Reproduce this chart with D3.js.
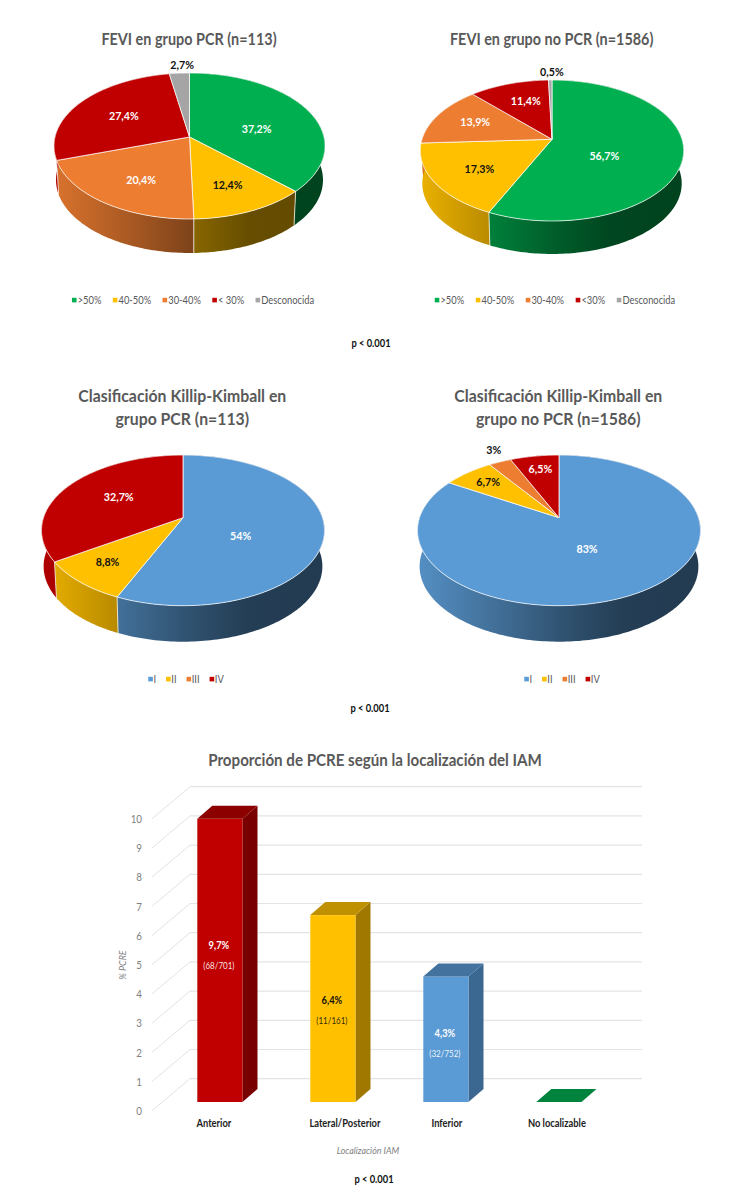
<!DOCTYPE html>
<html><head><meta charset="utf-8">
<script src="https://cdn.jsdelivr.net/npm/d3@7/dist/d3.min.js"></script>
<style>html,body{margin:0;padding:0;background:#fff}svg{display:block}text{font-family:Lato,"Noto Sans",sans-serif}</style>
</head><body><div id="c"></div>
<script>
// ---- data ----
const feviCategoriesPCR = [">50%", "40-50%", "30-40%", "< 30%", "Desconocida"];
const feviValuesPCR = [37.2, 12.4, 20.4, 27.4, 2.7];
const feviCategoriesNoPCR = [">50%", "40-50%", "30-40%", "<30%", "Desconocida"];
const feviValuesNoPCR = [56.7, 17.3, 13.9, 11.4, 0.5];
const killipCategories = ["I", "II", "III", "IV"];
const killipValuesPCR = [54, 8.8, 0, 32.7];
const killipValuesNoPCR = [83, 6.7, 3, 6.5];
const locCategories = ["Anterior", "Lateral/Posterior", "Inferior", "No localizable"];
const locValues = [9.7, 6.4, 4.3, 0];
const locCounts = ["(68/701)", "(11/161)", "(32/752)", ""];
const yTicks = [0,1,2,3,4,5,6,7,8,9,10];

// ---- styles ----
const feviColors = ["#00b050", "#ffc000", "#ed7d31", "#c00000", "#a5a5a5"];
const killipColors = ["#5b9bd5", "#ffc000", "#ed7d31", "#c00000"];
const feviLabelInk = ["#fff", "#111", "#fff", "#fff", "#111"];
const killipLabelInk = ["#fff", "#111", "#111", "#fff"];
const barFront = ["#c00000", "#ffc000", "#5b9bd5", "#00843d"];
const barSide = ["#780000", "#a07800", "#3b6890", "#00843d"];
const barTop = ["#8c0000", "#bf9000", "#44729f", "#00843d"];
const labelFont = 12, legendFont = 10.5, condense = 0.89;

const width = 750, height = 1200;
const svg = d3.select("#c").append("svg").attr("width", width).attr("height", height);
const defs = svg.append("defs");
let gradCount = 0;

function shadeGradient(color, x0, x1) {
  const id = "wall" + (gradCount++);
  const g = defs.append("linearGradient").attr("id", id)
    .attr("gradientUnits", "userSpaceOnUse").attr("x1", x0).attr("x2", x1).attr("y1", 0).attr("y2", 0);
  const c = d3.rgb(color);
  [[0,.92],[.27,.72],[.5,.54],[.72,.4],[1,.38]].forEach(([o,m]) => {
    g.append("stop").attr("offset", o).attr("stop-color", d3.rgb(c.r*m, c.g*m, c.b*m).formatHex());
  });
  return `url(#${id})`;
}

function pie3d(cfg) {
  const g = svg.append("g");
  const {cx, cy, A, B, k, depth} = cfg;
  const project = (a, f, dy, w) => {
    const u = f * Math.sin(a), v = -f * Math.cos(a), s = 1 / (1 - k * v);
    return [cx + A * u * s * (w || 1), cy + B * v * s + (dy || 0)];
  };
  const arcs = d3.pie().sort(null).value(d => d)(cfg.values);
  const line = d3.line();
  const rim = (a0, a1) => {
    const n = Math.max(2, Math.ceil((a1 - a0) / 0.02));
    return d3.range(n + 1).map(i => a0 + (a1 - a0) * i / n);
  };
  const rx = A * 1.012;
  arcs.forEach((d, i) => {
    if (d.endAngle <= d.startAngle) return;
    const as = rim(d.startAngle, d.endAngle);
    const top = as.map(a => project(a, 1, 0));
    const bottom = as.map(a => project(a, 1, depth, .985)).reverse();
    g.append("path").attr("d", line(top.concat(bottom)) + "Z")
      .attr("fill", shadeGradient(cfg.colors[i], cx - rx, cx + rx));
  });
  arcs.forEach(d => {
    if (d.endAngle <= d.startAngle) return;
    if (-Math.cos(d.startAngle) > 0.1) {
      g.append("path").attr("d", line([project(d.startAngle, 1, 0), project(d.startAngle, 1, depth, .985)]))
        .attr("stroke", "#f4f0e6").attr("stroke-width", 1).attr("stroke-opacity", .8).attr("fill", "none");
    }
  });
  arcs.forEach((d, i) => {
    if (d.endAngle <= d.startAngle) return;
    const pts = [[cx, cy]].concat(rim(d.startAngle, d.endAngle).map(a => project(a, 1, 0)));
    g.append("path").attr("d", line(pts) + "Z").attr("fill", cfg.colors[i])
      .attr("stroke", "#fff").attr("stroke-opacity", .72).attr("stroke-width", 1).attr("stroke-linejoin", "round");
  });
  arcs.forEach((d, i) => {
    if (d.endAngle <= d.startAngle) return;
    const p = project((d.startAngle + d.endAngle) / 2, .6, 0);
    const n = cfg.nudges[i];
    g.append("text").attr("x", p[0] + n[0]).attr("y", p[1] + n[1]).attr("dy", "0.35em")
      .attr("text-anchor", "middle").attr("font-size", labelFont).attr("font-weight", 700)
      .attr("fill", cfg.ink[i]).text(String(d.data).replace(".", ",") + "%");
  });
  cfg.title.forEach((t, i) => {
    g.append("text").attr("x", cfg.titleX).attr("y", cfg.titleY + i * 23.3).attr("dy", "0.35em")
      .attr("text-anchor", "middle").attr("font-size", cfg.titleSize).attr("font-weight", 700)
      .attr("fill", "#595959").text(t);
  });
  const lg = g.append("g");
  let x = 0;
  cfg.categories.forEach((c, i) => {
    const it = lg.append("g");
    it.append("rect").attr("x", 0).attr("y", -2.2).attr("width", 4.6).attr("height", 4.6).attr("fill", cfg.colors[i]);
    const t = it.append("text").attr("x", cfg.swatchGap).attr("dy", "0.35em").attr("font-size", legendFont)
      .attr("fill", "#595959").text(c);
    const w = cfg.swatchGap + t.node().getComputedTextLength() * condense;
    it.attr("transform", `translate(${x},0)`);
    x += w + cfg.itemGap;
  });
  lg.attr("transform", `translate(${cfg.legendX - (x - cfg.itemGap) / 2},${cfg.legendY})`);
}

pie3d({cx:189.5, cy:137, A:134.5, B:71.9, k:.123, depth:34,
  values:feviValuesPCR, colors:feviColors, ink:feviLabelInk, categories:feviCategoriesPCR,
  nudges:[[-5,8],[3,6],[1,5.5],[1,0],[-1,-32]],
  title:["FEVI en grupo PCR (n=113)"], titleX:189, titleY:39, titleSize:16.2,
  legendX:193, legendY:300, swatchGap:5.7, itemGap:11.4});
pie3d({cx:552, cy:139.3, A:130, B:68.7, k:.159, depth:33,
  values:feviValuesNoPCR, colors:feviColors, ink:feviLabelInk, categories:feviCategoriesNoPCR,
  nudges:[[-25.5,8],[-4.5,5],[-7,-3],[1,-3],[1,-30]],
  title:["FEVI en grupo no PCR (n=1586)"], titleX:551.7, titleY:39, titleSize:16.2,
  legendX:555, legendY:300, swatchGap:5.7, itemGap:11.6});
pie3d({cx:183, cy:517.7, A:139.5, B:73.2, k:.168, depth:36,
  values:killipValuesPCR, colors:killipColors, ink:killipLabelInk, categories:killipCategories,
  nudges:[[-26,9],[-17,7.5],[0,0],[6,-1]],
  title:["Clasificación Killip-Kimball en","grupo PCR (n=113)"], titleX:182.3, titleY:395.7, titleSize:17.8,
  legendX:186, legendY:679, swatchGap:5.2, itemGap:10});
pie3d({cx:559, cy:517.7, A:139.5, B:73.2, k:.168, depth:36,
  values:killipValuesNoPCR, colors:killipColors, ink:killipLabelInk, categories:killipCategories,
  nudges:[[-17,-11],[-14,-8],[-28,-33],[-3,-10]],
  title:["Clasificación Killip-Kimball en","grupo no PCR (n=1586)"], titleX:558.3, titleY:395.7, titleSize:17.8,
  legendX:562, legendY:679, swatchGap:5.2, itemGap:10});

// ---- bar chart ----
const xBand = d3.scaleBand().domain(locCategories).range([163.4, 615.4]).paddingInner(.6).paddingOuter(.3);
const y = d3.scaleLinear().domain([0, 10]).range([1102, 810]);
const backDy = -23.3, frontDy = 9, wallLeft = 151.7, wallBack = 190, wallRight = 642;
const sideDx = 15, sideDy = -13;
const bars = svg.append("g");

const grid = bars.append("g");
yTicks.forEach(t => {
  grid.append("line").attr("x1", wallBack).attr("x2", wallRight)
    .attr("y1", y(t) + backDy).attr("y2", y(t) + backDy).attr("stroke", "#e4e4e4").attr("stroke-width", 1.2);
  grid.append("line").attr("x1", wallLeft).attr("x2", wallBack)
    .attr("y1", y(t) + frontDy).attr("y2", y(t) + backDy).attr("stroke", "#e2e2e2").attr("stroke-width", 1);
});
const axis = bars.append("g").attr("transform", `translate(145,${frontDy})`)
  .call(d3.axisLeft(y).tickValues(yTicks).tickSize(0).tickPadding(3).tickFormat(d3.format("d")));
axis.select(".domain").remove();
axis.selectAll("text").attr("font-size", 11).attr("fill", "#7f7f7f").style("font-family", "Lato,sans-serif");

const poly = d3.line();
const labelShift = [-14.6, -8, -5.4, 0];
const catShift = [-6, 12, 1, -2];
locCategories.forEach((c, i) => {
  const x0 = xBand(c), w = xBand.bandwidth(), x1 = x0 + w, yt = y(locValues[i]), yb = y(0);
  if (locValues[i] > 0) {
    bars.append("path").attr("fill", barSide[i]).attr("d",
      poly([[x1,yt],[x1+sideDx,yt+sideDy],[x1+sideDx,yb+sideDy],[x1,yb]]) + "Z");
    bars.append("rect").attr("x", x0).attr("y", yt).attr("width", w).attr("height", yb - yt).attr("fill", barFront[i]);
  }
  bars.append("path").attr("fill", barTop[i]).attr("d",
    poly([[x0,yt],[x0+sideDx,yt+sideDy],[x1+sideDx,yt+sideDy],[x1,yt]]) + "Z");
  const ink = i === 1 ? "#111" : "#fff";
  if (locValues[i] > 0) {
    const mid = (yt + yb) / 2 + labelShift[i];
    bars.append("text").attr("x", x0 + w / 2 - 1).attr("y", mid).attr("dy", "0.35em").attr("text-anchor", "middle")
      .attr("font-size", 10.5).attr("font-weight", 700).attr("fill", ink)
      .text(String(locValues[i]).replace(".", ",") + "%");
    bars.append("text").attr("x", x0 + w / 2 - 1).attr("y", mid + 20).attr("dy", "0.35em").attr("text-anchor", "middle")
      .attr("font-size", 9).attr("fill", ink).attr("fill-opacity", .9).text(locCounts[i]);
  }
  bars.append("text").attr("x", x0 + w / 2 + catShift[i]).attr("y", 1123.3).attr("dy", "0.35em")
    .attr("text-anchor", "middle").attr("font-size", 10.5).attr("font-weight", 700).attr("fill", "#222").text(c);
});

bars.append("text").attr("x", 375).attr("y", 760).attr("dy", "0.35em").attr("text-anchor", "middle")
  .attr("font-size", 17).attr("font-weight", 700).attr("fill", "#595959")
  .text("Proporción de PCRE según la localización del IAM");
bars.append("text").attr("x", 368).attr("y", 1150).attr("dy", "0.35em").attr("text-anchor", "middle")
  .attr("font-size", 10).attr("font-style", "italic").attr("fill", "#7f7f7f").text("Localización IAM");
bars.append("text").attr("transform", "translate(122.3,965) rotate(-90)").attr("dy", "0.35em").attr("text-anchor", "middle")
  .attr("font-size", 10).attr("font-style", "italic").attr("fill", "#7f7f7f").text("% PCRE");

[[371,343],[370,708],[374,1179]].forEach(p => {
  svg.append("text").attr("x", p[0]).attr("y", p[1]).attr("dy", "0.35em").attr("text-anchor", "middle")
    .attr("font-size", 10.5).attr("font-weight", 700).attr("fill", "#111").text("p < 0.001");
});

// Lato is wider than the reference face: narrow every text to its measured widths.
svg.selectAll("text").each(function() {
  const len = this.getComputedTextLength();
  d3.select(this).attr("textLength", len * condense).attr("lengthAdjust", "spacingAndGlyphs");
});
</script></body></html>
